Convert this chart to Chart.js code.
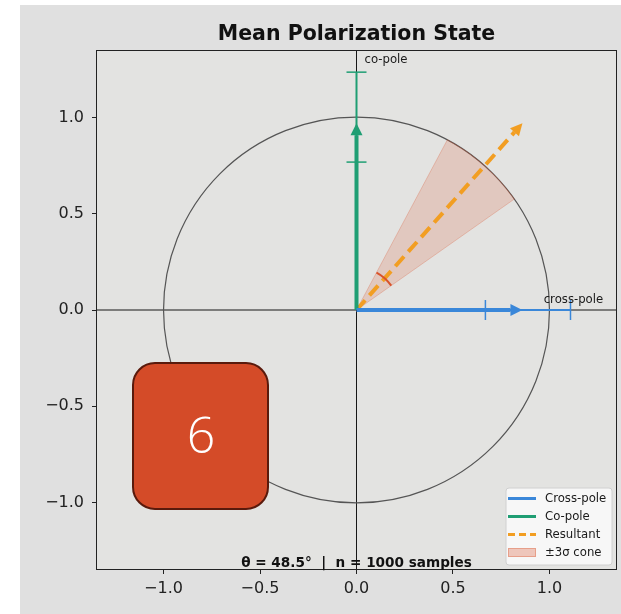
<!DOCTYPE html>
<html>
<head>
<meta charset="utf-8">
<title>Mean Polarization State</title>
<script src="https://cdn.jsdelivr.net/npm/chart.js@4.4.1/dist/chart.umd.min.js"></script>
<style>
  html, body { margin: 0; padding: 0; background: #ffffff; }
  #wrap { width: 621px; height: 614px; }
</style>
</head>
<body>
<div id="wrap"><canvas id="polar" width="621" height="614"></canvas></div>
<script>
// mean amplitudes: [cross-pole, co-pole]
const components = ['Cross-pole', 'Co-pole'];
const meanAmplitude = [0.86, 0.97];
// error bar extents for each component
const crossErrorSpan = [0.668, 1.109];
const coErrorSpan = [0.768, 1.235];
// resultant angle and the 3-sigma half width of the cone (degrees)
const thetaDeg = 48.5;
const coneHalfDeg = 13.4;
const coneMarkerRadius = 0.22;
const sampleCount = 1000;
const tickValues = [-1.0, -0.5, 0.0, 0.5, 1.0];
const legendLabels = ['Cross-pole', 'Co-pole', 'Resultant', '\u00b13\u03c3 cone'];
const badgeText = '6';

const BLUE = '#3a87d9';
const GREEN = '#1f9e73';
const ORANGE = '#f29e22';
const CONE_FILL = 'rgba(217, 87, 50, 0.19)';
const CONE_EDGE = 'rgba(217, 87, 50, 0.28)';
const ARC_RED = '#d9532b';
const FONT = '"DejaVu Sans", sans-serif';
const AX_MIN = -1.35, AX_MAX = 1.35;
const HEAD = 0.062; // arrow head length in data units

const crossTip = { x: meanAmplitude[0], y: 0 };
const coTip = { x: 0, y: meanAmplitude[1] };
const resTip = { x: meanAmplitude[0], y: meanAmplitude[1] };

function shaftEnd(tip) {
    const len = Math.hypot(tip.x, tip.y);
    const k = (len - HEAD) / len;
    return { x: tip.x * k, y: tip.y * k };
}

const fmtTick = v => (v < 0 ? '\u2212' : '') + Math.abs(v).toFixed(1);

function drawHead(ctx, xs, ys, tip, color, lenPx, halfPx) {
    const px = xs.getPixelForValue(tip.x), py = ys.getPixelForValue(tip.y);
    const ox = xs.getPixelForValue(0), oy = ys.getPixelForValue(0);
    const a = Math.atan2(py - oy, px - ox);
    ctx.save();
    ctx.translate(px, py);
    ctx.rotate(a);
    ctx.beginPath();
    ctx.moveTo(0, 0);
    ctx.lineTo(-lenPx, -halfPx);
    ctx.lineTo(-lenPx, halfPx);
    ctx.closePath();
    ctx.fillStyle = color;
    ctx.fill();
    ctx.restore();
}

const backdrop = {
    id: 'backdrop',
    beforeDraw(chart) {
        const { ctx, chartArea: ca } = chart;
        ctx.save();
        ctx.fillStyle = '#ffffff';
        ctx.fillRect(0, 0, chart.width, chart.height);
        ctx.fillStyle = '#e0e0e0';
        ctx.fillRect(20, 5, chart.width - 20, chart.height - 5);
        ctx.fillStyle = '#e3e3e1';
        ctx.fillRect(ca.left, ca.top, ca.right - ca.left, ca.bottom - ca.top);
        ctx.restore();
    },
    beforeDatasetsDraw(chart) {
        const { ctx, chartArea: ca } = chart;
        const xs = chart.scales.x, ys = chart.scales.y;
        const ox = xs.getPixelForValue(0), oy = ys.getPixelForValue(0);
        const r = xs.getPixelForValue(1) - ox;
        ctx.save();
        ctx.beginPath();
        ctx.rect(ca.left, ca.top, ca.right - ca.left, ca.bottom - ca.top);
        ctx.clip();
        // zero lines
        ctx.strokeStyle = '#000';
        ctx.lineWidth = 0.9;
        ctx.beginPath();
        ctx.moveTo(ca.left, oy); ctx.lineTo(ca.right, oy);
        ctx.moveTo(ox, ca.top); ctx.lineTo(ox, ca.bottom);
        ctx.stroke();
        // unit circle
        ctx.strokeStyle = '#555';
        ctx.lineWidth = 1.2;
        ctx.beginPath();
        ctx.arc(ox, oy, r, 0, Math.PI * 2);
        ctx.stroke();
        // 3-sigma cone
        const a0 = -(thetaDeg + coneHalfDeg) * Math.PI / 180;
        const a1 = -(thetaDeg - coneHalfDeg) * Math.PI / 180;
        ctx.beginPath();
        ctx.moveTo(ox, oy);
        ctx.arc(ox, oy, r, a0, a1);
        ctx.closePath();
        ctx.fillStyle = CONE_FILL;
        ctx.fill();
        ctx.strokeStyle = CONE_EDGE;
        ctx.lineWidth = 1;
        ctx.stroke();
        ctx.restore();
    },
    afterDatasetsDraw(chart) {
        const { ctx, chartArea: ca } = chart;
        const xs = chart.scales.x, ys = chart.scales.y;
        const ox = xs.getPixelForValue(0), oy = ys.getPixelForValue(0);
        const r = xs.getPixelForValue(1) - ox;
        ctx.save();
        drawHead(ctx, xs, ys, crossTip, BLUE, 12, 6);
        drawHead(ctx, xs, ys, coTip, GREEN, 12, 6);
        drawHead(ctx, xs, ys, resTip, ORANGE, 12, 6);

        // arc marker across the cone
        const a0 = -(thetaDeg + coneHalfDeg) * Math.PI / 180;
        const a1 = -(thetaDeg - coneHalfDeg) * Math.PI / 180;
        ctx.strokeStyle = ARC_RED;
        ctx.lineWidth = 2;
        ctx.beginPath();
        ctx.arc(ox, oy, coneMarkerRadius * r, a0, a1);
        ctx.stroke();

        // spines
        ctx.strokeStyle = '#222';
        ctx.lineWidth = 1;
        ctx.strokeRect(ca.left + 0.5, ca.top + 0.5, ca.right - ca.left - 1, ca.bottom - ca.top - 1);

        // axis labels on the arrows
        ctx.fillStyle = '#1a1a1a';
        ctx.font = '11.7px ' + FONT;
        ctx.textAlign = 'left';
        ctx.textBaseline = 'alphabetic';
        ctx.fillText('co-pole', ox + 8, ca.top + 13);
        ctx.fillText('cross-pole', xs.getPixelForValue(0.97), oy - 7);

        // numbered badge
        ctx.beginPath();
        ctx.roundRect(133, 363, 135, 146, 22);
        ctx.fillStyle = '#d44b28';
        ctx.fill();
        ctx.strokeStyle = '#5a1a0c';
        ctx.lineWidth = 2;
        ctx.stroke();
        ctx.fillStyle = '#ffffff';
        ctx.font = '300 50px "Open Sans", "Noto Sans", sans-serif';
        ctx.textAlign = 'center';
        ctx.textBaseline = 'middle';
        ctx.fillText(badgeText, 201, 439);

        // legend
        ctx.beginPath();
        ctx.roundRect(506, 488, 106, 77, 3);
        ctx.fillStyle = 'rgba(250, 250, 250, 0.85)';
        ctx.fill();
        ctx.strokeStyle = '#d0d0d0';
        ctx.lineWidth = 1;
        ctx.stroke();
        const rows = [498.5, 516.5, 534.5, 552.5];
        const swatch = [
            { color: BLUE, dash: [] },
            { color: GREEN, dash: [] },
            { color: ORANGE, dash: [7, 4] },
            null
        ];
        ctx.font = '11.7px ' + FONT;
        ctx.textAlign = 'left';
        ctx.textBaseline = 'middle';
        legendLabels.forEach((lab, i) => {
            const y = rows[i];
            const s = swatch[i];
            if (s) {
                ctx.save();
                ctx.strokeStyle = s.color;
                ctx.lineWidth = 3;
                ctx.setLineDash(s.dash);
                ctx.beginPath();
                ctx.moveTo(508, y); ctx.lineTo(536, y);
                ctx.stroke();
                ctx.restore();
            } else {
                ctx.fillStyle = 'rgba(217, 87, 50, 0.3)';
                ctx.fillRect(508, y - 4.5, 28, 9);
                ctx.strokeStyle = 'rgba(217, 87, 50, 0.35)';
                ctx.strokeRect(508.5, y - 4, 27, 8);
            }
            ctx.fillStyle = '#1a1a1a';
            ctx.fillText(lab, 545, y);
        });

        // title and footer
        ctx.fillStyle = '#111';
        ctx.textAlign = 'center';
        ctx.textBaseline = 'alphabetic';
        ctx.font = 'bold 20.5px ' + FONT;
        ctx.fillText('Mean Polarization State', (ca.left + ca.right) / 2, 39.5);
        ctx.font = 'bold 13.6px ' + FONT;
        ctx.fillText('\u03b8 = ' + thetaDeg.toFixed(1) + '\u00b0  |  n = ' + sampleCount + ' samples',
            (ca.left + ca.right) / 2, 567);
        ctx.restore();
    }
};

const lineSet = (label, data, color, width, extra) => Object.assign({
    type: 'line', label, data, showLine: true, borderColor: color,
    backgroundColor: color, borderWidth: width, pointRadius: 0,
    borderCapStyle: 'butt', fill: false, tension: 0
}, extra || {});

const datasets = [
    lineSet(components[0], [{ x: 0, y: 0 }, shaftEnd(crossTip)], BLUE, 4),
    lineSet(components[0] + ' error', [{ x: crossErrorSpan[0], y: 0 }, { x: crossErrorSpan[1], y: 0 }], BLUE, 2,
        { pointRadius: 10, pointStyle: 'line', rotation: 90, pointBorderWidth: 1.5, pointBorderColor: BLUE }),
    lineSet(components[1], [{ x: 0, y: 0 }, shaftEnd(coTip)], GREEN, 4),
    lineSet(components[1] + ' error', [{ x: 0, y: coErrorSpan[0] }, { x: 0, y: coErrorSpan[1] }], GREEN, 2,
        { pointRadius: 10, pointStyle: 'line', rotation: 0, pointBorderWidth: 1.5, pointBorderColor: GREEN }),
    lineSet('Resultant', [{ x: 0, y: 0 }, shaftEnd(resTip)], ORANGE, 4, { borderDash: [13, 6.5] })
];

const axisScale = (pos) => ({
    type: 'linear',
    position: pos,
    min: AX_MIN,
    max: AX_MAX,
    afterBuildTicks: s => { s.ticks = tickValues.map(v => ({ value: v })); },
    afterFit: s => {
        // fixed axis bands, no extra room for edge labels
        if (pos === 'left') {
            s.width = 96;
            s.paddingTop = 0; s.paddingBottom = 0;
        } else {
            s.height = 44;
            s.paddingLeft = 0; s.paddingRight = 0;
        }
    },
    ticks: {
        callback: fmtTick,
        color: '#222',
        font: { family: FONT, size: 16 },
        padding: pos === 'left' ? 8 : 5,
        maxRotation: 0
    },
    grid: { drawOnChartArea: false, drawTicks: true, tickLength: 4, tickColor: '#222', tickWidth: 1 },
    border: { display: false }
});

new Chart(document.getElementById('polar'), {
    type: 'scatter',
    data: { datasets },
    options: {
        responsive: false,
        animation: false,
        layout: { autoPadding: false, padding: { top: 50, right: 4, left: 0, bottom: 0 } },
        scales: { x: axisScale('bottom'), y: axisScale('left') },
        plugins: { legend: { display: false }, tooltip: { enabled: false }, title: { display: false } }
    },
    plugins: [backdrop]
});
</script>
</body>
</html>
